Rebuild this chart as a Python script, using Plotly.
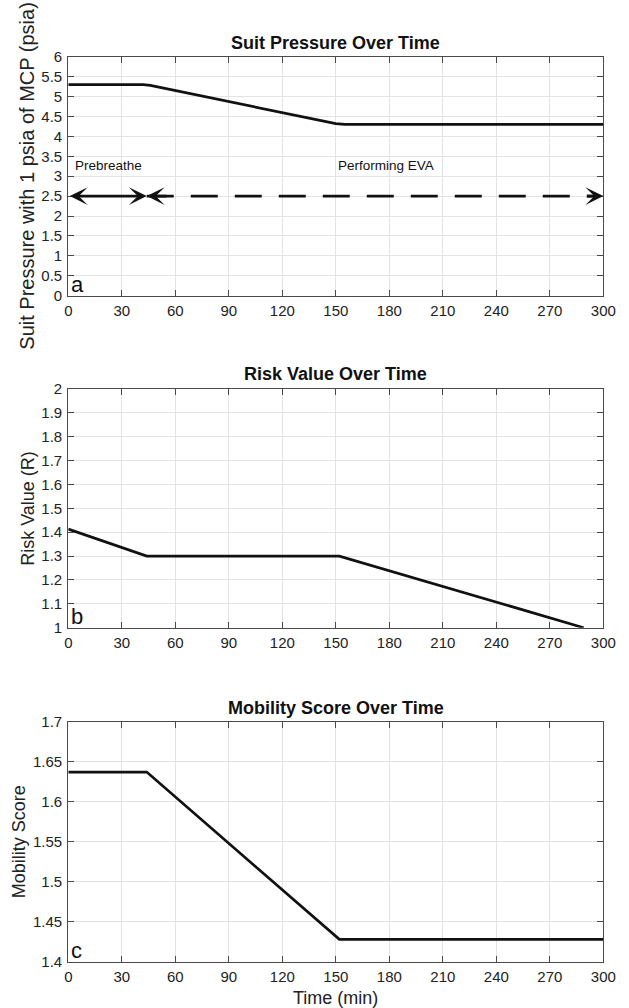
import plotly.graph_objects as go

# ---------------- data ----------------
time_a = [0, 42, 46, 150, 155, 300]
pressure = [5.3, 5.3, 5.28, 4.32, 4.3, 4.3]

time_b = [0, 44, 152, 289]
risk = [1.413, 1.3, 1.3, 1.0]

time_c = [0, 44, 152, 300]
mobility = [1.637, 1.637, 1.428, 1.428]

x_ticks = [0, 30, 60, 90, 120, 150, 180, 210, 240, 270, 300]
ya_ticks = [0, 0.5, 1, 1.5, 2, 2.5, 3, 3.5, 4, 4.5, 5, 5.5, 6]
ya_text = ["0", "0.5", "1", "1.5", "2", "2.5", "3", "3.5", "4", "4.5", "5", "5.5", "6"]
yb_ticks = [1, 1.1, 1.2, 1.3, 1.4, 1.5, 1.6, 1.7, 1.8, 1.9, 2]
yb_text = ["1", "1.1", "1.2", "1.3", "1.4", "1.5", "1.6", "1.7", "1.8", "1.9", "2"]
yc_ticks = [1.4, 1.45, 1.5, 1.55, 1.6, 1.65, 1.7]
yc_text = ["1.4", "1.45", "1.5", "1.55", "1.6", "1.65", "1.7"]

phase_y = 2.5
prebreathe_end = 44
eva_end = 300

titles = ["Suit Pressure Over Time", "Risk Value Over Time", "Mobility Score Over Time"]
ytitles = ["Suit Pressure with 1 psia of MCP (psia)", "Risk Value (R)", "Mobility Score"]
panel_letters = ["a", "b", "c"]

# ---------------- layout geometry ----------------
W, H = 629, 1008
x0px, x1px = 68.3, 603.3
panels_px = [(56.7, 295.7), (389.0, 627.7), (721.7, 961.7)]
title_px = [42.7, 374.3, 708.3]
ytitle_x = [27.5, 28.5, 18.5]
ytitle_size = [20, 18, 18]

FONT = "Liberation Sans, Arial, Helvetica, sans-serif"
LINE = "#111111"
AXC = "#4a4a4a"
GRID = "#e3e3e3"

fig = go.Figure()

series = [(time_a, pressure), (time_b, risk), (time_c, mobility)]
for i, (tx, vy) in enumerate(series):
    xa = "x" if i == 0 else f"x{i+1}"
    ya = "y" if i == 0 else f"y{i+1}"
    fig.add_trace(go.Scatter(x=tx, y=vy, mode="lines", xaxis=xa, yaxis=ya,
                             line=dict(color=LINE, width=2.7), showlegend=False,
                             hoverinfo="skip"))

# dashed EVA phase line
fig.add_trace(go.Scatter(x=[prebreathe_end, eva_end - 4], y=[phase_y, phase_y], mode="lines",
                         xaxis="x", yaxis="y",
                         line=dict(color=LINE, width=2.6, dash="27px,17px"),
                         showlegend=False, hoverinfo="skip"))

yranges = [(0, 6), (1, 2), (1.4, 1.7)]
ytv = [(ya_ticks, ya_text), (yb_ticks, yb_text), (yc_ticks, yc_text)]

axis_common = dict(showline=True, linecolor=AXC, linewidth=1.2, mirror="ticks",
                   ticks="inside", ticklen=6, tickcolor=AXC, tickwidth=1.2,
                   showgrid=True, gridcolor=GRID, gridwidth=1.2, zeroline=False,
                   tickfont=dict(family=FONT, size=15, color="#222222"),
                   automargin=False)

layout = dict(width=W, height=H, margin=dict(l=0, r=0, t=0, b=0),
              paper_bgcolor="white", plot_bgcolor="white", showlegend=False,
              font=dict(family=FONT, color="#222222"))

annotations = []
for i in range(3):
    top, bot = panels_px[i]
    dom_y = [1 - bot / H, 1 - top / H]
    xk = "xaxis" if i == 0 else f"xaxis{i+1}"
    yk = "yaxis" if i == 0 else f"yaxis{i+1}"
    anchor_y = "y" if i == 0 else f"y{i+1}"
    anchor_x = "x" if i == 0 else f"x{i+1}"
    layout[xk] = dict(axis_common, domain=[x0px / W, x1px / W], range=[0, 300],
                      tickvals=x_ticks, ticktext=[str(v) for v in x_ticks],
                      anchor=anchor_y, ticklabelstandoff=1)
    layout[yk] = dict(axis_common, domain=dom_y, range=list(yranges[i]),
                      tickvals=ytv[i][0], ticktext=ytv[i][1], anchor=anchor_x,
                      ticklabelstandoff=2)
    annotations.append(dict(text=f"<b>{titles[i]}</b>", xref="paper", yref="paper",
                            x=(x0px + x1px) / 2 / W, y=1 - title_px[i] / H,
                            xanchor="center", yanchor="middle", showarrow=False,
                            font=dict(family=FONT, size=18, color="#111111")))
    annotations.append(dict(text=ytitles[i], xref="paper", yref="paper",
                            x=ytitle_x[i] / W, y=1 - (top + bot) / 2 / H,
                            xanchor="center", yanchor="middle", textangle=-90,
                            showarrow=False,
                            font=dict(family=FONT, size=ytitle_size[i], color="#222222")))
    annotations.append(dict(text=panel_letters[i], xref=anchor_x, yref=anchor_y,
                            x=0, y=yranges[i][0], xanchor="left", yanchor="bottom",
                            xshift=1, yshift=-3, showarrow=False,
                            font=dict(family=FONT, size=22, color="#111111")))

annotations.append(dict(text="Time (min)", xref="paper", yref="paper",
                        x=(x0px + x1px) / 2 / W, y=1 - 998 / H,
                        xanchor="center", yanchor="middle", showarrow=False,
                        font=dict(family=FONT, size=18, color="#222222")))

annotations.append(dict(text="Prebreathe", xref="x", yref="y", x=2.8, y=3.28,
                        xanchor="left", yanchor="middle", showarrow=False,
                        font=dict(family=FONT, size=13.5, color="#111111")))
annotations.append(dict(text="Performing EVA", xref="x", yref="y", x=150, y=3.28,
                        xanchor="left", yanchor="middle", showarrow=False,
                        font=dict(family=FONT, size=13.5, color="#111111")))

arrow_style = dict(xref="x", yref="y", axref="x", ayref="y", text="", showarrow=True,
                   arrowcolor=LINE, arrowwidth=2.6, arrowsize=1.15, arrowhead=3,
                   startarrowhead=3, startarrowsize=1.15, standoff=0, startstandoff=0)
annotations.append(dict(arrow_style, x=prebreathe_end, y=phase_y, ax=0, ay=phase_y,
                        arrowside="end+start"))
annotations.append(dict(arrow_style, x=prebreathe_end, y=phase_y,
                        ax=prebreathe_end + 12, ay=phase_y, arrowside="end"))
annotations.append(dict(arrow_style, x=eva_end, y=phase_y,
                        ax=eva_end - 10, ay=phase_y, arrowside="end"))

layout["annotations"] = annotations
fig.update_layout(**layout)

fig.write_html("out.html")
